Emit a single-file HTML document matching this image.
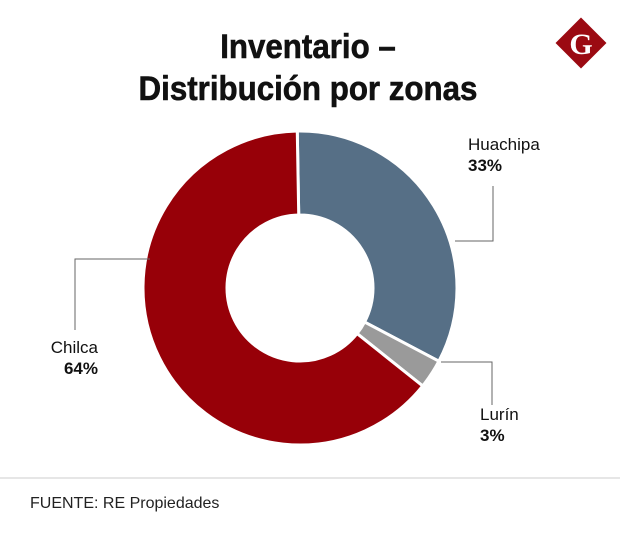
<!DOCTYPE html>
<html><head><meta charset="utf-8"><style>
body{margin:0;background:#fff;font-family:"Liberation Sans",sans-serif;}
#wrap{position:relative;width:620px;height:540px;overflow:hidden;background:#fff}
.t{position:absolute;left:8px;width:600px;text-align:center;font-weight:bold;font-size:34px;color:#111;transform:scaleX(0.92);transform-origin:300px 0;-webkit-text-stroke:0.6px #111}
.lbl{position:absolute;font-size:17px;color:#111;line-height:21px}
.lbl b{font-weight:bold}
</style></head><body>
<div id="wrap">
<div class="t" style="top:28px">Inventario –</div>
<div class="t" style="top:70px">Distribución por zonas</div>
<svg width="620" height="540" style="position:absolute;left:0;top:0" id="svg">
<g transform="translate(581,43) rotate(45)"><rect x="-18" y="-18" width="36" height="36" fill="#9b0a12"/></g>
<text x="581" y="54" text-anchor="middle" font-family="Liberation Serif" font-weight="bold" font-size="30" fill="#fff">G</text>
<g id="slices"></g>
<polyline points="455,241 493,241 493,186" fill="none" stroke="#666" stroke-width="1"/>
<polyline points="441,362 492,362 492,405" fill="none" stroke="#666" stroke-width="1"/>
<polyline points="150,259 75,259 75,330" fill="none" stroke="#666" stroke-width="1"/>
<line x1="0" y1="478" x2="620" y2="478" stroke="#ccc"/>
</svg>
<div class="lbl" style="left:468px;top:134px">Huachipa<br><b>33%</b></div>
<div class="lbl" style="left:46px;top:337px;text-align:right;width:52px">Chilca<br><b>64%</b></div>
<div class="lbl" style="left:480px;top:404px">Lurín<br><b>3%</b></div>
<div style="position:absolute;left:30px;top:495px;font-size:16px;color:#222">FUENTE: RE Propiedades</div>
</div>
<script>
const categories=["Huachipa","Lurín","Chilca"];
const values=[33,3,64];
const colors=["#566f86","#9a9a9a","#970008"];
const cx=300,cy=288,ro=157,ri=73,start=-1;
const g=document.getElementById('slices');
const total=values.reduce((a,b)=>a+b,0);
let a=start;
function pt(r,deg){const t=(deg-90)*Math.PI/180;return [cx+r*Math.cos(t),cy+r*Math.sin(t)];}
values.forEach((v,i)=>{
  const a2=a+v/total*360;
  const large=(a2-a)>180?1:0;
  const p1=pt(ro,a),p2=pt(ro,a2),p3=pt(ri,a2),p4=pt(ri,a);
  const p=document.createElementNS('http://www.w3.org/2000/svg','path');
  p.setAttribute('d',`M${p1} A${ro},${ro} 0 ${large} 1 ${p2} L${p3} A${ri},${ri} 0 ${large} 0 ${p4} Z`);
  p.setAttribute('fill',colors[i]);
  p.setAttribute('stroke','#fff');
  p.setAttribute('stroke-width','3');
  
  
  g.appendChild(p);
  a=a2;
});
</script>
</body></html>
